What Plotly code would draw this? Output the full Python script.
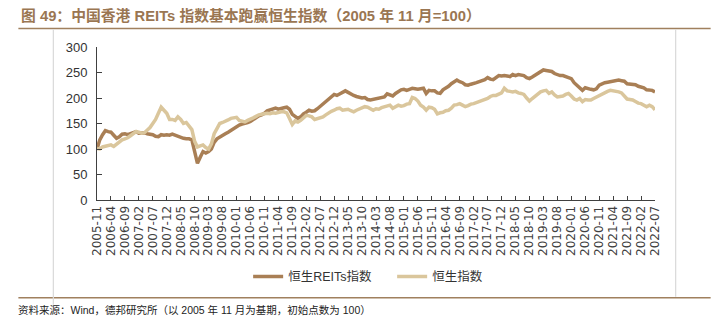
import plotly.graph_objects as go
import pandas as pd

months = [d.strftime("%Y-%m") for d in pd.date_range("2005-11-01", "2022-07-01", freq="MS")]

reits = [
    100, 118, 128, 136, 134, 133, 127, 121, 124, 129,
    130, 128, 130, 132, 134, 131, 132, 132, 130, 129,
    128, 125, 124, 128, 127, 128, 127, 129, 127, 124,
    123, 121, 120, 120, 118, 95, 72, 84, 95, 92,
    95, 100, 113, 120, 124, 127, 130, 133, 137, 141,
    144, 147, 149, 150, 152, 154, 158, 162, 165, 167,
    170, 175, 177, 179, 180, 178, 180, 181, 182, 178,
    168, 163, 160, 163, 169, 172, 176, 174, 175, 179,
    184, 189, 193, 198, 204, 207, 205, 208, 211, 214,
    211, 207, 205, 203, 202, 200, 201, 197, 196, 197,
    198, 199, 200, 202, 208, 206, 204, 209, 212, 216,
    217, 215, 217, 219, 218, 217, 218, 219, 209, 215,
    214, 214, 210, 209, 216, 219, 223, 228, 232, 235,
    232, 230, 226, 225, 227, 228, 230, 232, 234, 236,
    240, 237, 236, 240, 244, 243, 244, 243, 242, 246,
    244, 246, 245, 244, 240, 238, 241, 245, 249, 252,
    255, 254, 253, 252, 248, 246, 244, 244, 242, 241,
    238, 230, 225, 222, 215, 220, 218, 217, 216, 218,
    225, 228, 230, 231, 232, 234, 235, 235, 234, 233,
    228, 227, 227, 226, 223, 221, 220, 216, 215, 215,
    212,
]

hsi = [
    101, 100, 104, 105, 106, 108, 105, 109, 115, 118,
    120, 122, 126, 130, 134, 133, 131, 132, 136, 142,
    150, 158, 170, 182, 176, 170, 158, 158, 156, 163,
    158, 150, 152, 146, 138, 115, 104, 106, 108, 103,
    100, 110, 130, 140, 150, 152, 154, 157, 160, 161,
    162, 156, 155, 153, 156, 158, 161, 164, 167, 168,
    169, 170, 169, 171, 170, 172, 173, 173, 171, 160,
    148, 155, 153, 156, 160, 166, 165, 163, 158, 160,
    161, 163, 167, 171, 174, 176, 179, 180, 176, 177,
    178, 175, 173, 176, 178, 180, 183, 182, 178, 176,
    179, 178, 181, 183, 185, 186, 180, 184, 186, 184,
    185, 188, 189, 201, 199, 194, 186, 182, 176, 182,
    181, 178, 169, 171, 172, 175, 176, 180, 186, 187,
    189, 186, 183, 185, 188, 189, 191, 193, 196, 197,
    199, 203, 205, 205, 207, 210, 219, 214, 213, 212,
    213, 210, 209, 207, 200, 194, 199, 204, 208, 212,
    214, 215, 209, 212, 206, 202, 203, 204, 207, 209,
    204, 198, 196, 199, 193, 197, 196, 196, 199, 202,
    205, 208, 210, 213, 215, 214, 214, 212, 210, 203,
    198, 197, 196, 193, 190, 189, 186, 183, 186, 183,
    177,
]

series_names = ["恒生REITs指数", "恒生指数"]
tick_labels = months[::5]
y_ticks = [0, 50, 100, 150, 200, 250, 300]

C_REITS = "#A97F55"
C_HSI = "#DAC69C"
C_BROWN = "#A0805E"

W, H = 720, 327
L, R, T, B = 96.7, 655.3, 46.5, 200.5
PW, PH = R - L, B - T


def px(x):
    return (x - L) / PW


def py(y):
    return (B - y) / PH


fig = go.Figure()
fig.add_trace(go.Scatter(x=months, y=reits, name=series_names[0], mode="lines",
                         line=dict(color=C_REITS, width=3.5)))
fig.add_trace(go.Scatter(x=months, y=hsi, name=series_names[1], mode="lines",
                         line=dict(color=C_HSI, width=3.5)))

shapes = [
    dict(type="line", xref="paper", yref="paper", x0=px(18), x1=px(711), y0=py(28), y1=py(28),
         line=dict(color=C_BROWN, width=1.5)),
    dict(type="line", xref="paper", yref="paper", x0=px(18), x1=px(711), y0=py(299), y1=py(299),
         line=dict(color=C_BROWN, width=1.5)),
    dict(type="line", xref="paper", yref="paper", x0=px(53), x1=px(53), y0=py(29), y1=py(306),
         line=dict(color="#D9D9D9", width=1.2)),
    dict(type="line", xref="paper", yref="paper", x0=px(676), x1=px(676), y0=py(29), y1=py(298),
         line=dict(color="#D9D9D9", width=1.2)),
]

annotations = [
    dict(text="<b>图 49：中国香港 REITs 指数基本跑赢恒生指数（2005 年 11 月=100）</b>",
         xref="paper", yref="paper", x=px(19), y=py(15), xanchor="left", yanchor="middle",
         showarrow=False, font=dict(size=14.8, color="#9A7652",
                                    family="Liberation Sans, Noto Sans CJK SC, sans-serif")),
    dict(text="资料来源：Wind，德邦研究所（以 2005 年 11 月为基期，初始点数为 100）",
         xref="paper", yref="paper", x=px(16), y=py(311), xanchor="left", yanchor="middle",
         showarrow=False, font=dict(size=10.5, color="#222222",
                                    family="Liberation Sans, Noto Sans CJK SC, sans-serif")),
]

fig.update_layout(
    width=W, height=H,
    margin=dict(l=L, r=W - R, t=T, b=H - B),
    paper_bgcolor="white", plot_bgcolor="white",
    showlegend=True,
    legend=dict(orientation="h", x=px(248), y=py(278), xanchor="left", yanchor="middle",
                font=dict(size=12.5, color="#333333",
                          family="Liberation Sans, Noto Sans CJK SC, sans-serif"),
                itemwidth=30, entrywidth=99, entrywidthmode="pixels",
                bgcolor="rgba(0,0,0,0)"),
    shapes=shapes,
    annotations=annotations,
    font=dict(family="Liberation Sans, Noto Sans CJK SC, sans-serif", color="#333333"),
)

fig.update_xaxes(
    type="category", range=[0, len(months) - 1],
    tickmode="array", tickvals=tick_labels, ticktext=tick_labels,
    tickangle=-90, ticks="inside", ticklen=4, tickcolor="#404040",
    showline=True, linecolor="#404040", linewidth=1, showgrid=False, zeroline=False,
    tickfont=dict(size=12, color="#404040", family="DejaVu Sans, sans-serif"),
)
fig.update_yaxes(
    range=[0, 300], tickmode="array", tickvals=y_ticks,
    ticks="inside", ticklen=5, tickcolor="#404040",
    showline=True, linecolor="#404040", linewidth=1, showgrid=False, zeroline=False,
    tickfont=dict(size=13, color="#333333", family="Liberation Sans, sans-serif"),
    ticklabelstandoff=6,
)

fig.write_html("out.html")
